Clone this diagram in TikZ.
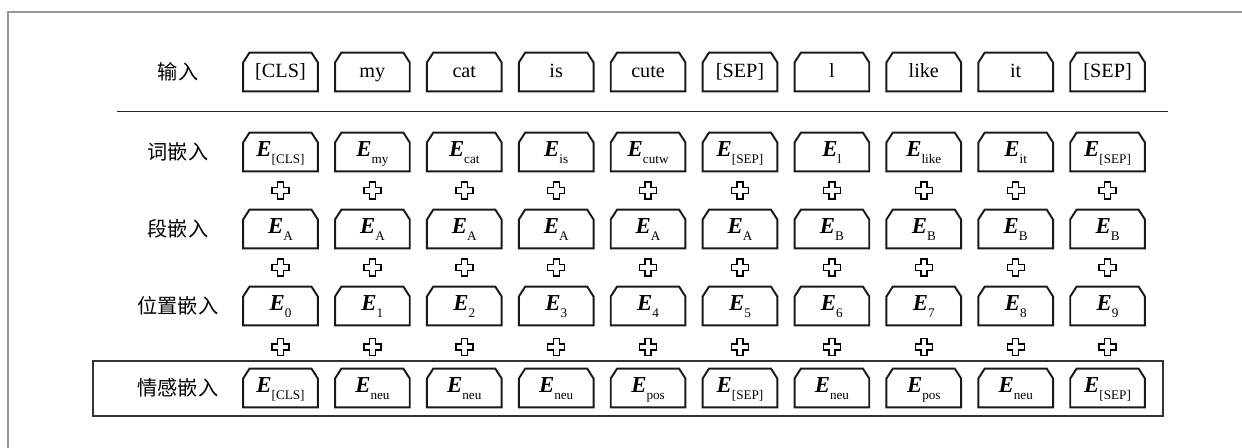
\documentclass[tikz,border=0pt]{standalone}
\usepackage{fontspec}
\setmainfont{Liberation Serif}
\newfontfamily\cjk{Noto Sans CJK SC}
\usetikzlibrary{positioning, calc}

% bold italic E with a lowered small subscript
\newcommand{\embE}[1]{{\fontsize{13}{15}\selectfont\bfseries\itshape E}\raisebox{-4pt}{\fontsize{7.5}{8}\selectfont #1}}

\tikzset{
  pluscross/.pic={
    \draw[line width=0.8pt, fill=white]
      (-3,-8.5) -- (3,-8.5) -- (3,-3) -- (8.5,-3) -- (8.5,3) -- (3,3)
      -- (3,8.5) -- (-3,8.5) -- (-3,3) -- (-8.5,3) -- (-8.5,-3) -- (-3,-3) -- cycle;
  },
  tokline/.style={draw=black!90, line width=1.1pt},
  tokbox/.style={minimum width=1.48cm, minimum height=0.76cm, inner sep=0pt,
    font=\fontsize{11.5}{13}\selectfont, text height=7.8pt, text depth=1.6pt,
    append after command={\pgfextra{\let\tb\tikzlastnode
      \draw[tokline] (\tb.south west) -- ([yshift=-5.6pt]\tb.north west)
        -- ([xshift=3.6pt]\tb.north west) -- ([xshift=-3.6pt]\tb.north east)
        -- ([yshift=-5.6pt]\tb.north east) -- (\tb.south east) -- cycle;}}},
  embbox/.style={tokbox, text height=7.4pt, text depth=1.8pt}
}

\begin{document}
\begin{tikzpicture}[
  x=0.02cm, y=-0.02cm,
  rowlbl/.style={font=\cjk\fontsize{11.5}{13}\selectfont, inner sep=0pt},
  sepline/.style={line width=1.1pt, draw=black!85},
  outerframe/.style={line width=0.7pt, draw=black!40},
  sentframe/.style={line width=1.1pt, draw=black!80}
]
\useasboundingbox (0,0) rectangle (1242,448);

% ---------------------------------------------- frames and rule
\draw[outerframe] (8,448) -- (8,12) -- (1242,12);
\draw[sepline] (117,111.5) -- (1168,111.5);
\draw[sentframe] (93,361) rectangle (1163,416);

% ---------------------------------------------- row labels
\node[rowlbl] (lbl-in)  at (178,72)  {输入};
\node[rowlbl] (lbl-tok) at (178,152) {词嵌入};
\node[rowlbl] (lbl-seg) at (178,229) {段嵌入};
\node[rowlbl] (lbl-pos) at (178,306) {位置嵌入};
\node[rowlbl] (lbl-sen) at (178,388) {情感嵌入};

% ---------------------------------------------- input tokens
\foreach \w [count=\i] in {{[CLS]},my,cat,is,cute,{[SEP]},l,like,it,{[SEP]}}
  \node[tokbox] (in-\i) at ({280.5+91.9*(\i-1)},72) {\w};

% ---------------------------------------------- token embeddings
\foreach \w [count=\i] in {{[CLS]},my,cat,is,cutw,{[SEP]},l,like,it,{[SEP]}}
  \node[embbox] (tok-\i) at ({280.5+91.9*(\i-1)},152) {\embE{\w}};

% ---------------------------------------------- segment embeddings
\foreach \w [count=\i] in {A,A,A,A,A,A,B,B,B,B}
  \node[embbox] (seg-\i) at ({280.5+91.9*(\i-1)},229) {\embE{\w}};

% ---------------------------------------------- position embeddings
\foreach \i in {1,...,10}
  \node[embbox] (pos-\i) at ({280.5+91.9*(\i-1)},306) {\embE{\the\numexpr\i-1\relax}};

% ---------------------------------------------- sentiment embeddings
\foreach \w [count=\i] in {{[CLS]},neu,neu,neu,pos,{[SEP]},neu,pos,neu,{[SEP]}}
  \node[embbox] (sen-\i) at ({280.5+91.9*(\i-1)},388) {\embE{\w}};

% ---------------------------------------------- plus marks
\foreach \i in {1,...,10} {
  \pic at ($(tok-\i.south)!0.5!(seg-\i.north)$) {pluscross};
  \pic at ($(seg-\i.south)!0.5!(pos-\i.north)$) {pluscross};
  \pic at ($(pos-\i.south)!0.5!(sen-\i.north)$) {pluscross};
}

\end{tikzpicture}
\end{document}
